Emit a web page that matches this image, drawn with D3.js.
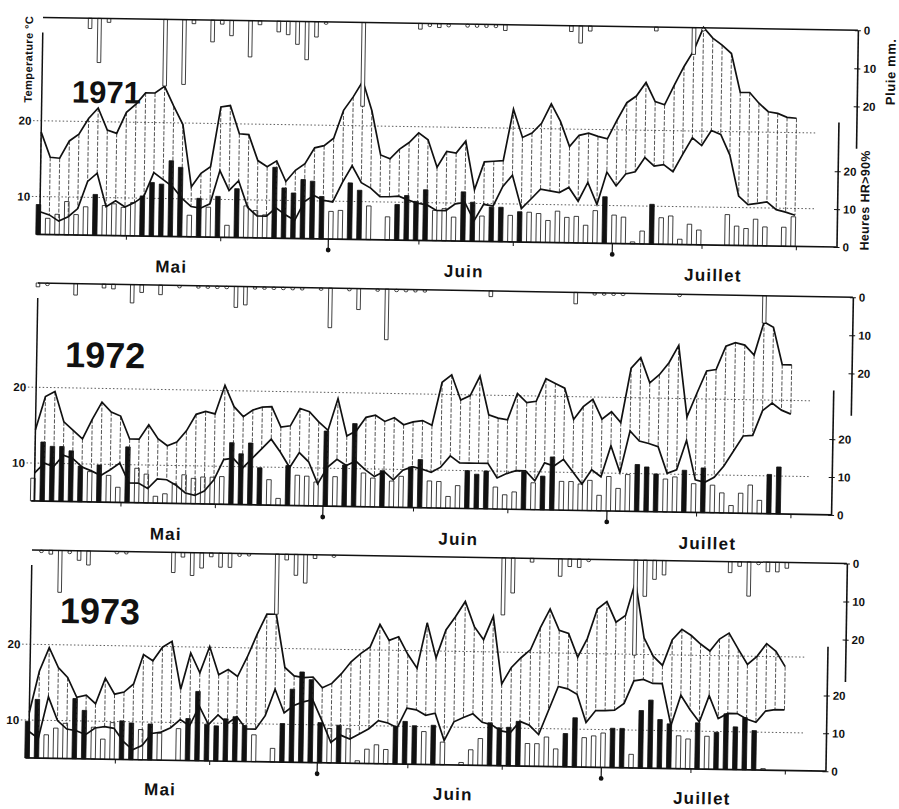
<!DOCTYPE html>
<html><head><meta charset="utf-8">
<script src="https://cdn.jsdelivr.net/npm/d3@7"></script>
<style>
body{margin:0;background:#fff}
svg{display:block}
text{font-family:"Liberation Sans",Arial,Helvetica,sans-serif;font-weight:bold;fill:#111}
</style>
</head><body>
<svg id="chart" width="899" height="809"></svg>
<script>
// ---------- DATA (day 0 = 1 May, 81 days) ----------
const years = ["1971", "1972", "1973"];
const months = ["Mai", "Juin", "Juillet"];
const monthLabelDays = [14, 45, 71.4];
const monthStartDays = [30.6, 60.7];
const tickDays = [9.2, 19.2, 40.2, 50.2, 70.2, 80.2];
const tempTicks = [10, 20];
const rainTicks = [0, 10, 20];
const hourTicks = [0, 10, 20];

const tmax1971 = [18.5,15.2,15.1,17.4,18.3,20.4,21.8,18.9,18.5,21.3,22.4,23.9,23.9,24.8,22.2,19.8,11.6,13.4,14.3,22.2,22.4,18.7,18.6,15.2,14.4,15.2,12.5,14.0,14.9,17.0,17.3,18.3,22.0,23.8,25.9,22.0,16.2,15.7,17.0,17.9,19.2,18.3,14.7,16.8,16.6,18.2,11.8,15.5,15.6,15.7,22.5,18.8,19.4,20.7,23.3,21.0,17.7,19.2,19.5,19.1,18.8,21.3,23.6,24.5,26.3,23.8,23.4,26.0,28.5,30.6,33.7,32.3,31.4,30.3,25.2,25.2,23.8,22.7,22.5,22.0,21.9];
const tmin1971 = [8.0,7.6,6.8,7.4,8.5,12.1,13.2,8.8,9.6,8.8,9.4,10.3,13.4,12.5,11.6,10.1,9.0,8.8,9.4,13.8,11.2,12.5,9.0,7.9,7.9,9.0,8.1,7.4,9.9,10.7,10.1,9.9,12.5,14.7,12.5,11.8,10.7,10.7,10.8,10.3,9.9,9.7,9.0,9.0,9.9,10.1,7.7,9.9,9.7,12.3,13.8,9.4,10.7,12.0,11.8,11.6,12.3,10.5,13.0,10.1,14.4,12.6,14.2,14.5,16.4,15.3,15.5,14.6,16.9,19.1,18.1,20.1,19.6,16.9,11.5,10.4,10.6,10.8,9.8,9.5,9.1];
const hours1971 = [7.9,4.3,5.4,8.8,5.4,7.5,10.8,7.9,8.4,7.5,8.8,10.6,14.2,13.8,20.0,18.3,5.7,10.2,7.9,10.8,3.2,12.9,8.4,7.2,6.1,18.7,13.3,12.0,15.6,15.2,11.2,7.3,7.6,14.9,13.0,8.9,0,6.1,9.4,11.8,10.3,13.4,8.0,8.5,6.3,13.0,10.3,6.7,9.1,9.1,7.0,8.0,7.9,7.6,5.8,8.3,6.7,7.0,4.7,8.6,12.3,7.5,7.0,0.5,3.4,10.5,7.0,7.5,1.4,5.4,3.9,0,0,8.1,5.1,4.5,7.0,5.0,0,5.0,7.8];
const filled1971 = [0,6,11,12,13,14,15,17,19,21,25,26,27,28,29,30,33,34,38,39,40,41,45,46,48,49,51,60,65];
const rain1971 = [0,0,0,0,0,2.7,11.6,1,0,0,0,0,0,17.5,0,17,1,0,5.7,1,4,0,9.5,1,0,2.8,3.5,6,10,4,0.6,0,0,0,22,0,0,0,0,0,1.5,0.8,1,0.8,0,0.8,0.8,0.8,0.8,1.5,0,0,0,0,0,0,1.5,4.5,1.3,0,0,0,0,0,0,1,0,0,0,7,0.8,0,0,0,0,0,0,0,0,0,0];

const tmax1972 = [14.4,18.8,19.5,15.5,14.4,13.3,15.9,18.2,16.9,16.4,13.4,13.4,15.3,13.5,12.6,13.1,14.6,16.8,17.2,16.9,20.7,17.9,16.6,17.5,17.9,18.0,15.3,15.5,17.8,17.4,16.1,15.0,19.2,14.3,15.0,16.8,17.1,16.3,16.8,15.9,16.3,16.5,15.9,21.6,22.6,19.3,19.9,22.5,17.4,17.0,16.8,20.3,19.1,19.3,22.3,21.7,21.1,17.0,18.7,19.7,17.1,18.1,16.7,23.9,25.3,22.0,23.1,24.7,27.0,17.6,20.7,23.7,23.9,27.0,27.5,27.2,25.9,30.3,29.6,24.7,24.7];
const tmin1972 = [8.7,10.0,9.6,11.1,10.7,9.6,9.1,8.5,9.3,10.2,7.6,7.6,6.9,8.2,8.1,7.4,6.4,6.1,6.7,8.2,10.9,11.1,9.8,11.1,12.4,13.7,12.0,10.0,12.0,10.8,7.9,10.1,11.2,10.4,11.0,9.9,9.0,9.7,8.6,9.9,10.4,10.1,9.7,10.4,11.9,11.0,11.0,11.0,11.0,9.1,9.7,10.1,10.1,8.8,11.2,10.8,11.7,10.1,8.5,10.4,9.5,13.6,10.1,15.6,14.3,14.0,13.6,10.1,10.6,14.5,9.3,9.0,9.7,11.2,13.2,15.2,15.3,18.6,19.6,18.7,18.2];
const hours1972 = [6.0,15.6,14.5,14.5,13.4,9.4,8.0,9.8,7.1,4.0,14.7,9.1,7.6,1.8,2.5,5.2,7.6,6.7,7.1,7.1,7.3,16.3,13.4,16.3,9.8,6.7,1.8,10.5,8.0,7.8,6.3,19.8,7.8,10.9,21.9,8.9,7.6,9.6,6.9,8.2,10.7,12.7,7.1,7.0,3.1,6.0,10.0,9.1,10.0,5.8,3.8,4.6,10.0,7.1,8.9,14.0,7.6,7.6,7.0,8.0,4.1,9.1,6.0,9.7,12.4,11.8,10.0,8.7,9.3,11.1,7.6,11.8,7.3,5.3,2.0,5.3,7.5,3.5,10.4,12.4,0];
const filled1972 = [1,2,3,4,5,7,10,21,22,23,24,27,31,33,34,37,40,41,46,47,48,52,54,55,64,65,66,69,71,78,79];
const rain1972 = [1,0.5,0,0,3,0,0,1,1.2,0,4.8,2,0,2.5,0,0.3,0,0.5,0.5,0.5,0.5,5.5,4.8,0.5,0.4,0.4,0.4,0.4,0.4,0,0.5,10.4,0,0.5,5.5,0,0.5,13.3,0.4,0.5,0.5,0.5,0,0,0,0,0,0,1.5,0,0,0,0,0,0,0,0,3,0,0.5,0.5,0.5,0.5,0,0,0,0,0,0.3,0,0,0,0,0,0,0,0,7.2,0,0,0];

const tmax1973 = [11.0,16.5,19.6,17.0,15.7,13.1,13.4,12.3,15.7,13.6,13.9,15.0,18.9,18.1,19.9,20.7,14.4,19.2,16.6,20.1,16.4,17.1,16.2,18.8,21.8,24.5,24.5,17.5,16.4,16.2,16.3,14.9,15.5,16.8,18.4,19.5,20.4,23.4,21.3,21.8,19.5,17.7,23.7,19.1,22.8,24.6,26.6,23.3,21.6,24.7,15.8,18.0,19.3,20.4,23.3,25.8,23.0,22.6,19.5,22.0,25.9,26.9,24.2,25.1,29.6,22.2,19.8,18.6,22.0,23.4,22.6,21.5,20.6,22.2,23.0,20.9,18.9,20.0,21.7,20.7,18.7];
const tmin1973 = [8.5,7.6,13.1,10.0,8.9,8.7,8.2,9.1,9.3,9.1,7.4,6.3,6.9,8.5,8.7,9.3,10.4,9.6,12.2,9.8,11.1,10.0,10.9,9.3,9.3,11.1,14.6,11.5,12.5,13.0,13.3,10.6,7.7,8.7,8.2,8.9,9.6,10.7,10.4,9.8,12.4,12.2,11.5,11.8,8.2,10.7,11.3,11.8,10.7,10.4,9.6,9.4,10.9,10.4,9.2,12.4,15.6,15.3,14.6,10.9,12.5,12.5,12.6,13.5,16.5,16.7,16.2,16.2,10.7,14.7,12.8,11.2,14.7,11.7,12.4,12.4,11.7,11.3,12.8,13.0,13.0];
const hours1973 = [9.7,15.5,6.2,8.0,9.3,15.9,12.8,8.4,5.3,9.7,10.2,9.7,8.0,9.5,7.1,0,8.4,11.1,18.3,9.7,9.3,11.2,11.8,9.5,7.1,0,3.6,10.2,19.3,23.9,21.9,10.6,9.1,10.0,9.1,0.7,3.8,5.0,3.8,10.0,11.3,10.2,8.7,10.4,6.0,0,0.7,4.1,7.1,11.3,10.0,10.2,11.8,6.0,6.0,7.8,4.7,8.8,13.0,7.8,8.3,9.1,10.4,10.4,3.6,15.2,18.0,12.9,11.8,8.7,7.9,12.2,8.7,9.8,14.7,11.3,13.8,10.4,0.4,0,0];
const filled1973 = [0,1,5,6,10,11,13,17,18,19,20,21,22,23,27,28,29,30,31,33,39,40,41,43,49,50,51,52,57,58,62,63,65,66,67,68,71,73,74,75,76,77];
const rain1973 = [0,0.3,1,11,0.8,2.5,3.7,0,0,0.6,0.5,0,0,0,0,5.3,1.2,6,4,1,3.7,3.7,0.8,0.5,0,0,15.8,1.5,5.5,7.5,1,0,0.5,0,0,0,0,0,0,0,0,0,0,0,0,0,0,0,0,0,15,9.2,0,1,0,0,4.6,2,2.2,0.5,0,0,0,0,25,9.5,5,3.8,0,0,0,0,0,0,2.9,1.2,9,0.7,2.5,2.5,1.5];

// ---------- LAYOUT (scan geometry) ----------
const series = [
  {tmax: tmax1971, tmin: tmin1971, hours: hours1971, filled: filled1971, rain: rain1971},
  {tmax: tmax1972, tmin: tmin1972, hours: hours1972, filled: filled1972, rain: rain1972},
  {tmax: tmax1973, tmin: tmin1973, hours: hours1973, filled: filled1973, rain: rain1973}
];
const layout = [
  {x0: 43, y0: 17.5, H: 217, angle: 0.9, yearSize: 31, yearX: 30, yearY: 84.5, monthY: 253, first: true},
  {x0: 38, y0: 283, H: 218, angle: 1.0, yearSize: 36, yearX: 28.5, yearY: 83.5, monthY: 254.5},
  {x0: 32, y0: 550, H: 208, angle: 0.95, yearSize: 36, yearX: 29, yearY: 72.5, monthY: 243}
];

const svg = d3.select("#chart");
const INK = "#111";

series.forEach((s, i) => {
  const L = layout[i];
  const H = L.H;
  const g = svg.append("g").attr("transform", `translate(${L.x0},${L.y0}) rotate(${L.angle})`);
  const n = s.tmax.length;
  const days = d3.range(n);
  const x = d3.scaleLinear().domain([0, n - 1]).range([0, 755]);
  const y = d3.scaleLinear().domain([5, 5 + H / 7.58]).range([H, 0]);
  const yh = d3.scaleLinear().domain([0, 33]).range([H, H - 125]);
  const yr = d3.scaleLinear().domain([0, 31]).range([0, 118]);
  const filledSet = new Set(s.filled);

  // dotted gridlines
  g.selectAll(".grid").data(tempTicks).join("line")
    .attr("x1", -12).attr("x2", 775)
    .attr("y1", d => y(d)).attr("y2", d => y(d))
    .attr("stroke", "#333").attr("stroke-width", 0.8).attr("stroke-dasharray", "1.5,2.2");

  // hours bars (HR>90%)
  g.selectAll(".hbar").data(days.filter(d => s.hours[d] > 0)).join("rect")
    .attr("x", d => x(d) - 3.8).attr("width", 4.5)
    .attr("y", d => yh(s.hours[d])).attr("height", d => H - yh(s.hours[d]))
    .attr("fill", d => filledSet.has(d) ? INK : "#fff")
    .attr("stroke", INK).attr("stroke-width", 0.8);

  // hatching between min and max
  g.selectAll(".hatch").data(days).join("line")
    .attr("x1", d => x(d)).attr("x2", d => x(d))
    .attr("y1", d => y(s.tmax[d])).attr("y2", d => y(s.tmin[d]))
    .attr("stroke", "#2a2a2a").attr("stroke-width", 0.8).attr("stroke-dasharray", "4,1.6");

  // temperature lines
  const line = v => d3.line().x(d => x(d)).y(d => y(v[d]))(days);
  g.append("path").attr("d", line(s.tmax)).attr("fill", "none").attr("stroke", INK).attr("stroke-width", 1.7);
  g.append("path").attr("d", line(s.tmin)).attr("fill", "none").attr("stroke", INK).attr("stroke-width", 1.7);

  // rain bars hanging from top
  g.selectAll(".rbar").data(days.filter(d => s.rain[d] > 0)).join("rect")
    .attr("x", d => x(d) - 1.8).attr("width", 3.6)
    .attr("y", 0).attr("height", d => Math.max(2.4, yr(s.rain[d])))
    .attr("rx", d => s.rain[d] < 1 ? 1.6 : 0)
    .attr("fill", "#fff").attr("stroke", INK).attr("stroke-width", 0.8);

  // frame lines
  g.append("line").attr("x1", 0).attr("x2", 815).attr("y1", 0).attr("y2", 0).attr("stroke", INK).attr("stroke-width", 1.5);
  g.append("line").attr("x1", -3).attr("x2", 797).attr("y1", H).attr("y2", H).attr("stroke", INK).attr("stroke-width", 1.7);
  g.append("line").attr("x1", 0).attr("x2", 0).attr("y1", 15).attr("y2", H).attr("stroke", INK).attr("stroke-width", 1.5);

  // left temperature axis labels
  const ax = g.append("g").call(d3.axisLeft(y).tickValues(tempTicks).tickSize(0).tickPadding(10));
  ax.select(".domain").remove();
  ax.selectAll("text").attr("font-size", 11.5).attr("font-family", "Liberation Sans, Arial, sans-serif").attr("font-weight", "bold").attr("fill", INK);

  // right rain axis
  const ar = g.append("g").attr("transform", "translate(815,0)")
    .call(d3.axisRight(yr).tickValues(rainTicks).tickSize(3).tickSizeOuter(0).tickPadding(3));
  ar.select(".domain").attr("stroke", INK).attr("stroke-width", 1.6);
  ar.selectAll(".tick line").attr("stroke", INK).attr("x1", -3);
  ar.selectAll("text").attr("font-size", 11.5).attr("font-family", "Liberation Sans, Arial, sans-serif").attr("font-weight", "bold").attr("fill", INK);

  // right hours axis
  const ah = g.append("g").attr("transform", "translate(797,0)")
    .call(d3.axisRight(yh).tickValues(hourTicks).tickSize(3).tickSizeOuter(0).tickPadding(3));
  ah.select(".domain").attr("stroke", INK).attr("stroke-width", 1.6);
  ah.selectAll(".tick line").attr("stroke", INK).attr("x1", -3);
  ah.selectAll("text").attr("font-size", 11.5).attr("font-family", "Liberation Sans, Arial, sans-serif").attr("font-weight", "bold").attr("fill", INK);

  // small ticks on baseline
  g.selectAll(".btick").data(tickDays).join("line")
    .attr("x1", d => x(d)).attr("x2", d => x(d)).attr("y1", H).attr("y2", H + 4)
    .attr("stroke", INK).attr("stroke-width", 1);
  // month start markers
  g.selectAll(".mline").data(monthStartDays).join("line")
    .attr("x1", d => x(d)).attr("x2", d => x(d)).attr("y1", H).attr("y2", H + 10)
    .attr("stroke", INK).attr("stroke-width", 1.2);
  g.selectAll(".mdot").data(monthStartDays).join("circle")
    .attr("cx", d => x(d)).attr("cy", H + 11).attr("r", 2.4).attr("fill", INK);

  // month labels
  g.selectAll(".mlab").data(months).join("text")
    .attr("x", (d, k) => x(monthLabelDays[k])).attr("y", L.monthY)
    .attr("text-anchor", "middle").attr("font-size", 17).attr("letter-spacing", 1.2)
    .text(d => d);

  // year label
  g.append("text").attr("x", L.yearX).attr("y", L.yearY)
    .attr("font-size", L.yearSize).text(years[i]);

  if (L.first) {
    g.append("text").attr("transform", "translate(-10,42) rotate(-90)")
      .attr("text-anchor", "middle").attr("font-size", 11).attr("letter-spacing", 0.4).text("Temperature °C");
    g.append("text").attr("transform", "translate(853,41) rotate(-90)")
      .attr("text-anchor", "middle").attr("font-size", 13).attr("letter-spacing", 0.6).text("Pluie  mm.");
    g.append("text").attr("transform", "translate(829,170) rotate(-90)")
      .attr("text-anchor", "middle").attr("font-size", 12.5).attr("letter-spacing", 0.3).text("Heures HR>90%");
  }
});
</script>
</body></html>
